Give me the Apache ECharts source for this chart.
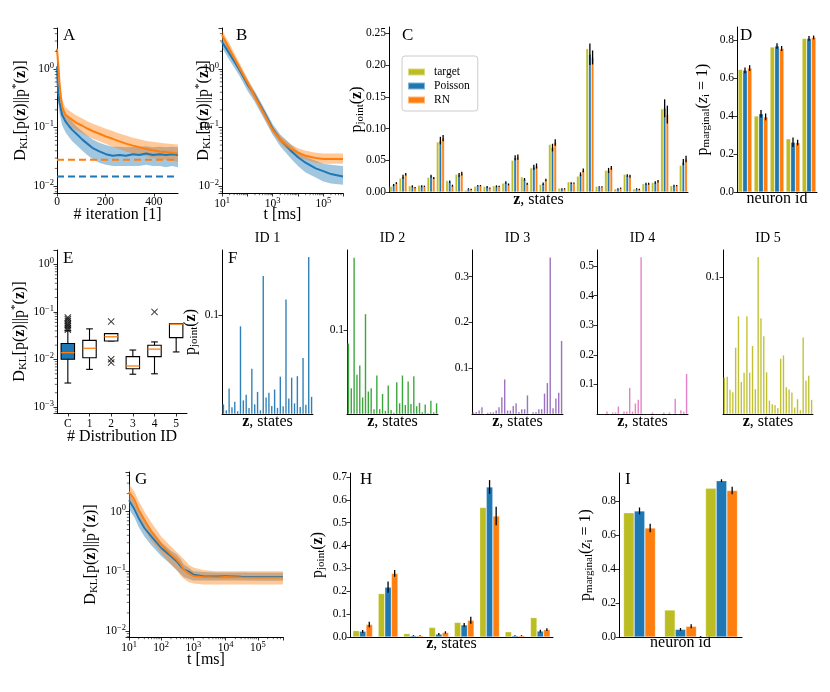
<!DOCTYPE html>
<html><head><meta charset="utf-8">
<script src="https://cdn.jsdelivr.net/npm/echarts@6/dist/echarts.min.js"></script>
<style>html,body{margin:0;padding:0;background:#fff}#c{width:830px;height:692px}</style>
</head><body><div id="c"></div>
<script>
// ================= DATA =================
// Panel A: D_KL vs iteration
const aIter   = [0,3,7,10,14,21,28,35,50,63,80,105,125,146,175,202,230,258,285,314,340,369,395,425,450,475,500];
const aPois   = [1.1,0.55,0.34,0.27,0.23,0.165,0.145,0.127,0.105,0.091,0.078,0.062,0.053,0.045,0.039,0.035,0.033,0.034,0.033,0.035,0.034,0.036,0.034,0.035,0.034,0.035,0.034];
const aPoisHi = [1.6,0.8,0.48,0.38,0.32,0.23,0.2,0.175,0.145,0.125,0.105,0.085,0.074,0.063,0.055,0.05,0.047,0.047,0.046,0.047,0.047,0.048,0.046,0.047,0.046,0.047,0.046];
const aPoisLo = [0.7,0.35,0.22,0.18,0.15,0.11,0.095,0.083,0.068,0.058,0.05,0.04,0.034,0.029,0.025,0.023,0.022,0.022,0.022,0.022,0.022,0.023,0.022,0.022,0.021,0.022,0.021];
const aRN     = [2.2,1.5,0.96,0.6,0.39,0.23,0.19,0.165,0.148,0.135,0.12,0.107,0.096,0.087,0.078,0.070,0.064,0.058,0.053,0.049,0.046,0.043,0.041,0.039,0.038,0.037,0.036];
const aRNHi   = [3.0,2.1,1.35,0.85,0.52,0.31,0.255,0.22,0.195,0.178,0.16,0.142,0.128,0.117,0.105,0.095,0.087,0.079,0.073,0.067,0.063,0.059,0.057,0.055,0.053,0.052,0.051];
const aRNLo   = [1.6,1.05,0.65,0.42,0.28,0.17,0.14,0.122,0.11,0.1,0.09,0.08,0.072,0.065,0.058,0.052,0.047,0.043,0.039,0.036,0.034,0.032,0.03,0.029,0.028,0.027,0.026];
const aIterRange = [0, 500];
const aPoisFloor = 0.0145;
const aRNFloor = 0.028;

// Panel B: D_KL vs time
const bTime   = [10,20,50,100,200,500,1000,2000,5000,1e4,2e4,5e4,1e5,2e5,6e5];
const bPois   = [2.9,1.8,0.95,0.55,0.35,0.17,0.095,0.062,0.041,0.031,0.025,0.02,0.018,0.016,0.0145];
const bPoisHi = [3.5,2.2,1.15,0.66,0.41,0.2,0.115,0.076,0.052,0.04,0.032,0.027,0.024,0.023,0.022];
const bPoisLo = [2.3,1.4,0.75,0.43,0.27,0.13,0.075,0.048,0.030,0.022,0.017,0.014,0.012,0.011,0.0105];
const bRN     = [3.8,2.17,1.03,0.59,0.336,0.16,0.091,0.062,0.044,0.037,0.033,0.030,0.029,0.029,0.029];
const bRNHi   = [4.6,2.7,1.25,0.7,0.4,0.19,0.105,0.072,0.052,0.044,0.040,0.037,0.036,0.036,0.036];
const bRNLo   = [3.2,1.8,0.86,0.5,0.29,0.14,0.08,0.054,0.038,0.031,0.028,0.025,0.024,0.024,0.024];

// Panel C: joint distribution (32 states)
const cStates = [0,1,2,3,4,5,6,7,8,9,10,11,12,13,14,15,16,17,18,19,20,21,22,23,24,25,26,27,28,29,30,31];
const cTarget = [0.009,0.022,0.010,0.011,0.023,0.079,0.018,0.028,0.003,0.009,0.009,0.010,0.014,0.050,0.024,0.038,0.012,0.075,0.006,0.016,0.025,0.226,0.009,0.034,0.005,0.028,0.005,0.013,0.015,0.131,0.010,0.042];
const cPois   = [0.011,0.024,0.009,0.009,0.025,0.081,0.016,0.027,0.005,0.010,0.008,0.009,0.015,0.054,0.020,0.039,0.013,0.070,0.005,0.014,0.028,0.217,0.008,0.034,0.005,0.026,0.005,0.013,0.015,0.132,0.010,0.047];
const cRN     = [0.014,0.028,0.007,0.009,0.022,0.085,0.010,0.029,0.004,0.010,0.006,0.009,0.012,0.055,0.013,0.041,0.019,0.078,0.005,0.014,0.034,0.212,0.008,0.038,0.006,0.025,0.004,0.013,0.017,0.122,0.010,0.052];
const cPoisErr= [0.0015,0.003,0.0015,0.0015,0.002,0.006,0.002,0.003,0.001,0.001,0.0015,0.0015,0.002,0.004,0.002,0.004,0.002,0.006,0.001,0.0015,0.003,0.017,0.001,0.004,0.001,0.002,0.001,0.0015,0.002,0.014,0.0015,0.005];
const cRNErr  = [0.0015,0.002,0.001,0.001,0.0015,0.005,0.0015,0.003,0.001,0.001,0.001,0.001,0.0015,0.004,0.0015,0.004,0.002,0.005,0.001,0.001,0.003,0.011,0.001,0.003,0.001,0.002,0.001,0.0015,0.002,0.014,0.001,0.005];
const cTicks  = [0,0.05,0.10,0.15,0.20,0.25];

// Panel D: marginals (5 neurons)
const dNeurons = [1,2,3,4,5];
const dTarget  = [0.645,0.400,0.763,0.280,0.808];
const dPois    = [0.640,0.412,0.768,0.262,0.808];
const dRN      = [0.652,0.395,0.755,0.260,0.813];
const dPoisErr = [0.015,0.02,0.015,0.025,0.012];
const dRNErr   = [0.015,0.018,0.013,0.015,0.01];
const dTicks   = [0,0.2,0.4,0.6,0.8];

// Panel E: box plots of D_KL per distribution ID  [low whisker, Q1, median, Q3, high whisker]
const eIds = ['C','1','2','3','4','5'];
const eBoxes = [
  [0.0032,0.0101,0.0139,0.0216,0.040],
  [0.0062,0.0109,0.0172,0.0252,0.044],
  [0.0245,0.0245,0.030,0.035,0.035],
  [0.0049,0.0064,0.0073,0.0115,0.0158],
  [0.005,0.0115,0.0165,0.0199,0.0234],
  [0.0144,0.0288,0.0555,0.0567,0.0567]
];
const eOutliers = [
  [0,0.076],[0,0.070],[0,0.064],[0,0.058],[0,0.054],[0,0.050],[0,0.046],[0,0.042],
  [2,0.0625],[2,0.0101],[2,0.0086],
  [4,0.1]
];

// Panel F: five target distributions
const fIds = ['ID 1','ID 2','ID 3','ID 4','ID 5'];
const f1 = [0.010,0.004,0.026,0.007,0.0125,0.003,0.089,0.014,0.0196,0.0064,0.046,0.010,0.0226,0.004,0.140,0.017,0.0216,0.0084,0.025,0.0064,0.038,0.008,0.116,0.016,0.037,0.011,0.0385,0.0074,0.057,0.0095,0.159,0.0176];
const f2 = [0.084,0.031,0.186,0.047,0.058,0.020,0.119,0.027,0.031,0.006,0.046,0.006,0.024,0.004,0.034,0.005,0.0016,0.038,0.013,0.046,0.011,0.039,0.012,0.045,0.0095,0.0135,0.0024,0.0115,0.001,0.016,0.0024,0.013];
const f3 = [0.004,0.005,0.008,0.015,0,0.003,0.004,0.004,0.008,0.015,0.037,0.076,0.008,0.008,0.018,0.024,0.005,0.011,0.011,0.041,0,0.004,0.005,0.011,0.011,0.045,0.068,0.342,0.013,0.034,0.047,0.160];
const f4 = [0,0,0,0.009,0,0.006,0.006,0.026,0,0.009,0.009,0.089,0.009,0.036,0.049,0.53,0,0,0,0.006,0,0,0,0.006,0,0.006,0,0.052,0,0.013,0.008,0.136];
const f5 = [0.0267,0.0274,0.0178,0.0161,0.0487,0.0716,0.0235,0.0303,0.0716,0.0303,0.0499,0.0183,0.115,0.0702,0.057,0.0306,0.010,0.0073,0.0068,0.0046,0.0406,0.043,0.0198,0.018,0.0159,0.0049,0.011,0.0029,0.0562,0.0244,0.0281,0.0105];
const fTicks = [[0.1],[0.1],[0.1,0.2,0.3],[0.1,0.2,0.3,0.4,0.5],[0.1]];

// Panel G: D_KL vs time (3-neuron)
const gTime   = [10,15,20,30,50,100,200,300,400,500,700,1000,2000,5000,1e4,3e4,1e5,3e5,6e5];
const gPois   = [1.55,1.07,0.77,0.53,0.38,0.245,0.178,0.147,0.121,0.107,0.1,0.088,0.083,0.082,0.083,0.081,0.08,0.08,0.08];
const gPoisHi = [2.1,1.45,1.05,0.72,0.5,0.31,0.22,0.19,0.16,0.13,0.115,0.1,0.097,0.095,0.095,0.095,0.094,0.094,0.094];
const gPoisLo = [1.1,0.78,0.55,0.38,0.27,0.18,0.13,0.105,0.09,0.08,0.075,0.07,0.07,0.07,0.07,0.07,0.069,0.069,0.069];
const gRN     = [2.15,1.56,1.07,0.73,0.46,0.28,0.19,0.156,0.13,0.107,0.092,0.083,0.08,0.079,0.08,0.079,0.078,0.078,0.078];
const gRNHi   = [2.9,2.1,1.5,1.0,0.65,0.38,0.26,0.21,0.18,0.16,0.13,0.115,0.105,0.1,0.1,0.1,0.1,0.1,0.1];
const gRNLo   = [1.5,1.1,0.75,0.5,0.32,0.2,0.13,0.105,0.085,0.075,0.066,0.062,0.06,0.06,0.06,0.06,0.06,0.06,0.06];

// Panel H: joint distribution (8 states)
const hStates  = [0,1,2,3,4,5,6,7];
const hTarget  = [0.028,0.190,0.015,0.042,0.064,0.566,0.023,0.085];
const hPois    = [0.025,0.218,0.006,0.013,0.053,0.656,0.006,0.026];
const hRN      = [0.055,0.278,0.006,0.020,0.073,0.529,0.006,0.032];
const hPoisErr = [0.006,0.025,0.002,0.004,0.008,0.03,0.002,0.006];
const hRNErr   = [0.012,0.015,0.002,0.005,0.015,0.04,0.002,0.006];
const hTicks   = [0,0.1,0.2,0.3,0.4,0.5,0.6,0.7];

// Panel I: marginals (3 neurons)
const iNeurons = [1,2,3];
const iTarget  = [0.731,0.159,0.875];
const iPois    = [0.742,0.045,0.920];
const iRN      = [0.641,0.063,0.862];
const iPoisErr = [0.02,0.008,0.008];
const iRNErr   = [0.025,0.012,0.022];
const iTicks   = [0,0.2,0.4,0.6,0.8];

// ================= STYLE HELPERS =================
const FONT = 'Liberation Serif';
const NFS = 16;
const C_T = '#bcbd22', C_P = '#1f77b4', C_R = '#ff7f0e';
const F_COLORS = ['#1f77b4','#2ca02c','#9467bd','#e377c2','#bcbd22'];

const richLab = {
  n:   {fontFamily:FONT, fontSize:NFS, lineHeight:19, color:'#000'},
  b:   {fontFamily:FONT, fontSize:NFS, lineHeight:19, fontWeight:'bold', color:'#000'},
  i:   {fontFamily:FONT, fontSize:NFS, lineHeight:19, fontStyle:'italic', color:'#000'},
  sub: {fontFamily:FONT, fontSize:11, lineHeight:11, verticalAlign:'bottom', color:'#000'},
  sup: {fontFamily:FONT, fontSize:11, lineHeight:11, verticalAlign:'top', color:'#000'}
};
const richTick = {
  b: {fontFamily:FONT, fontSize:11.5, lineHeight:16, color:'#000'},
  s: {fontFamily:FONT, fontSize:8.5, lineHeight:9, verticalAlign:'top', color:'#000'}
};
const DKL = '{n|D}{sub|KL}{n|[p(}{b|z}{n|)||p}{sup|*}{n|(}{b|z}{n|)]}';
const PJ = '{n|p}{sub|joint}{n|(}{b|z}{n|)}';
const PM = '{n|p}{sub|marginal}{n|(}{i|z}{sub|i}{n| = 1)}';
const ZS = '{b|z}{n|, states}';

const axLine = {show:true, onZero:false, lineStyle:{color:'#000', width:1}};
const axTick = {show:true, length:3.5, lineStyle:{color:'#000', width:0.8}};
const axLabel = {color:'#000', fontFamily:FONT, fontSize:11.5, margin:3};

function powLabel(v, skipEven) {
  const e = Math.log10(v), r = Math.round(e);
  if (Math.abs(e - r) > 1e-6) return '';
  if (skipEven && r % 2 === 0) return '';
  return '{b|10}{s|' + (r < 0 ? '\u2212' + (-r) : r) + '}';
}
function nameCfg(name, gap, rot) {
  return {name, nameLocation:'middle', nameGap:gap, nameRotate:rot, nameMoveOverlap:false,
    nameTextStyle:{rich:richLab, color:'#000', fontFamily:FONT, fontSize:NFS}};
}
function logAxis(min, max, name, gap, vertical, skipEven) {
  return Object.assign({type:'log', logBase:10, min, max, axisLine:axLine, axisTick:axTick,
    minorTick:{show:false}, splitLine:{show:false}, minorSplitLine:{show:false},
    axisLabel:Object.assign({}, axLabel, {formatter:v => powLabel(v, skipEven), rich:richTick})},
    nameCfg(name, gap, vertical ? 90 : 0));
}
function valAxis(min, max, ticks, digits, name, gap, vertical) {
  return Object.assign({type:'value', min, max, axisLine:axLine,
    axisTick:Object.assign({}, axTick, {customValues:ticks}), splitLine:{show:false},
    axisLabel:Object.assign({}, axLabel, {customValues:ticks, formatter:v => v.toFixed(digits)})},
    nameCfg(name, gap, vertical ? 90 : 0));
}
function catAxis(data, name, gap, showLabels) {
  return Object.assign({type:'category', data, boundaryGap:true, axisLine:axLine,
    axisTick:{show:!!showLabels, alignWithLabel:true, length:3.5, lineStyle:{color:'#000', width:0.8}},
    axisLabel:Object.assign({}, axLabel, {show:!!showLabels, margin:5, interval:0}), splitLine:{show:false}},
    nameCfg(name, gap, 0));
}

const grids = [], xAxes = [], yAxes = [], series = [];
function panel(box, xa, ya) {
  grids.push(Object.assign({outerBoundsMode:'none', containLabel:false}, box));
  const gi = grids.length - 1;
  xa.gridIndex = gi; ya.gridIndex = gi;
  xAxes.push(xa); yAxes.push(ya);
  return gi;
}
// minor ticks (2..9 x 10^n) of a log axis, placed through the axis scale
function decadeMinors(min, max) {
  const out = [];
  for (let e = Math.floor(Math.log10(min)); e <= Math.ceil(Math.log10(max)); e++)
    for (let m = 2; m <= 9; m++) { const v = m * Math.pow(10, e); if (v > min && v < max) out.push(v); }
  return out;
}
function minorTicksY(gi, xAnchor, min, max) {
  return {type:'custom', xAxisIndex:gi, yAxisIndex:gi, silent:true, clip:false, z:6,
    data:decadeMinors(min, max).map(v => [xAnchor, v]), encode:{x:0, y:1},
    renderItem:(params, api) => {
      const p = api.coord([api.value(0), api.value(1)]);
      const x = params.coordSys.x;
      return {type:'line', shape:{x1:x - 2.2, y1:p[1], x2:x, y2:p[1]}, style:{stroke:'#000', lineWidth:0.6}};
    }};
}
function minorTicksX(gi, yAnchor, min, max) {
  return {type:'custom', xAxisIndex:gi, yAxisIndex:gi, silent:true, clip:false, z:6,
    data:decadeMinors(min, max).map(v => [v, yAnchor]), encode:{x:0, y:1},
    renderItem:(params, api) => {
      const p = api.coord([api.value(0), api.value(1)]);
      const y = params.coordSys.y + params.coordSys.height;
      return {type:'line', shape:{x1:p[0], y1:y, x2:p[0], y2:y + 2.2}, style:{stroke:'#000', lineWidth:0.6}};
    }};
}
function band(xs, lo, hi, color, gi, z) {
  return {type:'custom', xAxisIndex:gi, yAxisIndex:gi, silent:true, z:z||1,
    data:[[xs[0], lo[0]]], encode:{x:0, y:1}, clip:true,
    renderItem:(params, api) => {
      const pts = [];
      for (let i = 0; i < xs.length; i++) pts.push(api.coord([xs[i], hi[i]]));
      for (let i = xs.length - 1; i >= 0; i--) pts.push(api.coord([xs[i], lo[i]]));
      return {type:'polygon', shape:{points:pts}, style:{fill:color}};
    }};
}
function lineS(xs, ys, color, gi, width, extra) {
  return Object.assign({type:'line', xAxisIndex:gi, yAxisIndex:gi, data:xs.map((x, i) => [x, ys[i]]),
    showSymbol:false, symbol:'none', silent:true, z:3,
    lineStyle:{color, width:width||2}, itemStyle:{color}}, extra||{});
}
function barS(name, vals, color, gi, wpct) {
  return {type:'bar', name, xAxisIndex:gi, yAxisIndex:gi, data:vals, barWidth:wpct + '%', barGap:'0%',
    itemStyle:{color, borderColor:'rgba(255,255,255,0.45)', borderWidth:0.6}, silent:true};
}
function errS(vals, errs, idx, n, wfrac, gi) {
  return {type:'custom', xAxisIndex:gi, yAxisIndex:gi, silent:true, z:5,
    data:vals.map((v, i) => [i, v, errs[i]]), encode:{x:0, y:1},
    renderItem:(params, api) => {
      const i = api.value(0), v = api.value(1), e = api.value(2);
      const bw = api.size([1, 0], [i, v])[0];
      const w = bw * wfrac;
      const off = -n * w / 2 + idx * w + w / 2;
      const p1 = api.coord([i, v + e]), p2 = api.coord([i, v - e]);
      return {type:'line', shape:{x1:p1[0] + off, y1:p1[1], x2:p1[0] + off, y2:p2[1]},
        style:{stroke:'#000', lineWidth:1.3}};
    }};
}
function groupedBars(gi, tgt, pois, rn, pErr, rErr, wpct) {
  series.push(barS('target', tgt, C_T, gi, wpct));
  series.push(barS('Poisson', pois, C_P, gi, wpct));
  series.push(barS('RN', rn, C_R, gi, wpct));
  series.push(errS(pois, pErr, 1, 3, wpct / 100, gi));
  series.push(errS(rn, rErr, 2, 3, wpct / 100, gi));
}
const BLUE_BAND = 'rgba(31,119,180,0.42)', ORANGE_BAND = 'rgba(255,127,14,0.42)';

// ---- A ----
let g = panel({left:57, top:28, width:121, height:165},
  valAxis(aIterRange[0], aIterRange[1], [0,200,400], 0, '# iteration [1]', 14, false),
  logAxis(0.0076, 5, DKL, 27, true));
series.push(band(aIter, aPoisLo, aPoisHi, BLUE_BAND, g));
series.push(band(aIter, aRNLo, aRNHi, ORANGE_BAND, g));
series.push(lineS(aIter, aPois, C_P, g, 2));
series.push(lineS(aIter, aRN, C_R, g, 2));
series.push(lineS(aIterRange, [aRNFloor, aRNFloor], C_R, g, 2, {lineStyle:{color:C_R, width:2, type:[7,4]}}));
series.push(lineS(aIterRange, [aPoisFloor, aPoisFloor], C_P, g, 2, {lineStyle:{color:C_P, width:2, type:[7,4]}}));
series.push(minorTicksY(g, 0, 0.0076, 5));

// ---- B ----
g = panel({left:222, top:28, width:121, height:165},
  logAxis(10, 6e5, 't [ms]', 14, false, true),
  logAxis(0.0076, 5, DKL, 9, true));
series.push(band(bTime, bPoisLo, bPoisHi, BLUE_BAND, g));
series.push(band(bTime, bRNLo, bRNHi, ORANGE_BAND, g));
series.push(lineS(bTime, bPois, C_P, g, 2));
series.push(lineS(bTime, bRN, C_R, g, 2));
series.push(minorTicksY(g, 10, 0.0076, 5));
series.push(minorTicksX(g, 1, 10, 6e5));

// ---- C ----
g = panel({left:389, top:27, width:299, height:165},
  catAxis(cStates, ZS, -2, false),
  valAxis(0, 0.26, cTicks, 2, PJ, 23, true));
groupedBars(g, cTarget, cPois, cRN, cPoisErr, cRNErr, 29);

// ---- D ----
g = panel({left:737, top:27, width:80, height:165},
  catAxis(dNeurons, 'neuron id', -1, false),
  valAxis(0, 0.868, dTicks, 1, PM, 25, true));
groupedBars(g, dTarget, dPois, dRN, dPoisErr, dRNErr, 29);

// ---- E ----
g = panel({left:57, top:250, width:130, height:163},
  catAxis(eIds, '# Distribution ID', 16, true),
  logAxis(0.00075, 2, DKL, 28, true));
series.push({type:'custom', xAxisIndex:g, yAxisIndex:g, silent:true, z:4,
  data:eBoxes.map((b, i) => [i].concat(b)), encode:{x:0, y:3},
  renderItem:(params, api) => {
    const i = api.value(0);
    const lo = api.coord([i, api.value(1)]), q1 = api.coord([i, api.value(2)]), md = api.coord([i, api.value(3)]),
          q3 = api.coord([i, api.value(4)]), hi = api.coord([i, api.value(5)]);
    const bw = api.size([1, 0], [i, api.value(3)])[0] * 0.62;
    const x = md[0], cw = bw / 2;
    const st = {stroke:'#000', lineWidth:1.1};
    return {type:'group', children:[
      {type:'line', shape:{x1:x, y1:lo[1], x2:x, y2:q1[1]}, style:st},
      {type:'line', shape:{x1:x, y1:q3[1], x2:x, y2:hi[1]}, style:st},
      {type:'line', shape:{x1:x - cw / 2, y1:lo[1], x2:x + cw / 2, y2:lo[1]}, style:st},
      {type:'line', shape:{x1:x - cw / 2, y1:hi[1], x2:x + cw / 2, y2:hi[1]}, style:st},
      {type:'rect', shape:{x:x - bw / 2, y:q3[1], width:bw, height:q1[1] - q3[1]},
        style:{fill:i === 0 ? C_P : '#fff', stroke:'#000', lineWidth:1.1}},
      {type:'line', shape:{x1:x - bw / 2, y1:md[1], x2:x + bw / 2, y2:md[1]}, style:{stroke:C_R, lineWidth:1.3}}
    ]};
  }});
series.push({type:'scatter', xAxisIndex:g, yAxisIndex:g, silent:true, z:5, data:eOutliers,
  symbol:'path://M1,0L5,4L9,0L10,1L6,5L10,9L9,10L5,6L1,10L0,9L4,5L0,1Z', symbolSize:7,
  itemStyle:{color:'#000'}});
series.push(minorTicksY(g, 0, 0.00075, 2));

// ---- F ----
const fData = [f1, f2, f3, f4, f5];
const fBoxes = [{left:222, width:91}, {left:347, width:91}, {left:472, width:91}, {left:597, width:91}, {left:723, width:90}];
const fMax = [0.166, 0.195, 0.358, 0.554, 0.120];
for (let k = 0; k < 5; k++) {
  g = panel(Object.assign({top:250, height:164}, fBoxes[k]),
    catAxis(cStates, ZS, -2, false),
    valAxis(0, fMax[k], fTicks[k], 1, k === 0 ? PJ : '', 22, true));
  series.push({type:'bar', xAxisIndex:g, yAxisIndex:g, data:fData[k], barWidth:'64%', silent:true,
    itemStyle:{color:F_COLORS[k], borderColor:'rgba(255,255,255,0.35)', borderWidth:0.4}});
}

// ---- G ----
g = panel({left:129, top:472, width:154, height:165},
  logAxis(10, 6e5, 't [ms]', 15, false),
  logAxis(0.0079, 4.6, DKL, 29, true));
series.push(band(gTime, gPoisLo, gPoisHi, BLUE_BAND, g));
series.push(band(gTime, gRNLo, gRNHi, ORANGE_BAND, g));
series.push(lineS(gTime, gPois, C_P, g, 1.8));
series.push(lineS(gTime, gRN, C_R, g, 1.8));
series.push(minorTicksY(g, 10, 0.0079, 4.6));
series.push(minorTicksX(g, 1, 10, 6e5));

// ---- H ----
g = panel({left:350, top:473, width:203, height:164},
  catAxis(hStates, ZS, -3, false),
  valAxis(0, 0.717, hTicks, 1, PJ, 23, true));
groupedBars(g, hTarget, hPois, hRN, hPoisErr, hRNErr, 26);

// ---- I ----
g = panel({left:619, top:473, width:123, height:164},
  catAxis(iNeurons, 'neuron id', -2, false),
  valAxis(0, 0.965, iTicks, 1, PM, 24, true));
groupedBars(g, iTarget, iPois, iRN, iPoisErr, iRNErr, 26);

// ---- text: panel letters & titles ----
const LF = '17px "Liberation Serif"';
const letters = [['A',63,27],['B',236,27],['C',402,27],['D',740,27],['E',63,250],['F',228,250],['G',135,471],['H',360,471],['I',625,471]];
const graphic = letters.map(l => ({type:'text', x:l[1], y:l[2], silent:true,
  style:{text:l[0], font:LF, fill:'#000', textVerticalAlign:'top'}}));
fIds.forEach((t, k) => graphic.push({type:'text', x:fBoxes[k].left + fBoxes[k].width / 2, y:231, silent:true,
  style:{text:t, font:'14px "Liberation Serif"', fill:'#000', textAlign:'center', textVerticalAlign:'top'}}));

const chart = echarts.init(document.getElementById('c'), null, {renderer:'canvas'});
chart.setOption({
  animation:false,
  backgroundColor:'#fff',
  textStyle:{fontFamily:FONT},
  legend:{data:['target','Poisson','RN'], left:402, top:56, orient:'vertical', icon:'rect',
    itemWidth:17, itemHeight:7, itemGap:2, padding:[10,8,5,5], selectedMode:false,
    borderColor:'#ccc', borderWidth:1, borderRadius:3, backgroundColor:'#fff',
    textStyle:{fontFamily:FONT, fontSize:11.5, color:'#000', padding:[0,0,0,4]}},
  grid:grids, xAxis:xAxes, yAxis:yAxes, series, graphic
});
</script></body></html>
